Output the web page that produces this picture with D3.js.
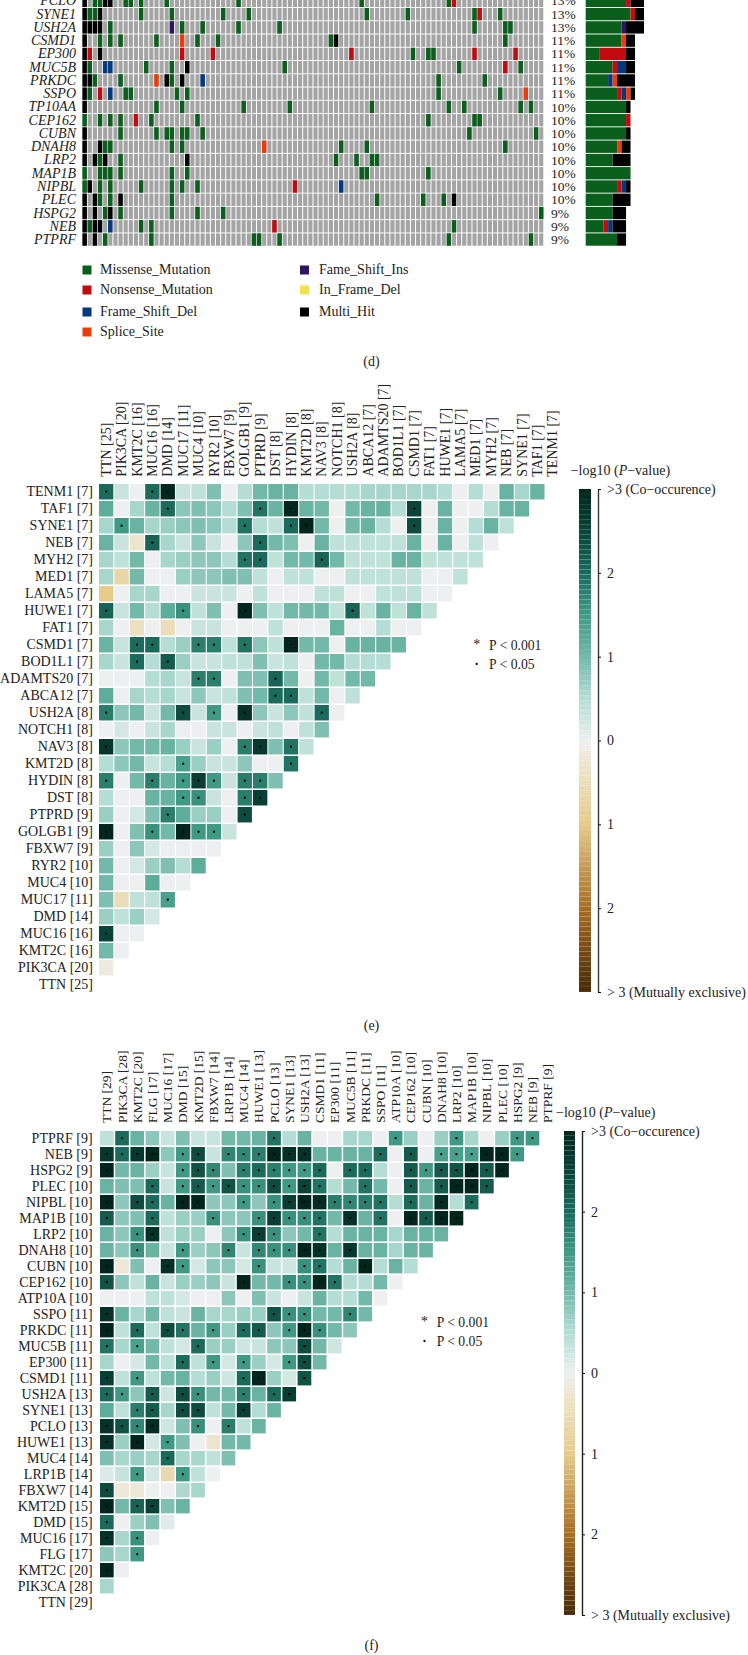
<!DOCTYPE html>
<html>
<head>
<meta charset="utf-8">
<script src="https://cdnjs.cloudflare.com/ajax/libs/d3/7.8.5/d3.min.js"></script>
<style>
html,body{margin:0;padding:0;background:#fff;overflow:hidden}
svg{display:block}
text{font-family:"Liberation Serif",serif;fill:#222}
</style>
</head>
<body>
<svg id="fig" width="748" height="1655"></svg>
<script>
// ---------- panel (d) ----------
const oncoGenes = ["PCLO","SYNE1","USH2A","CSMD1","EP300","MUC5B","PRKDC","SSPO","TP10AA","CEP162","CUBN","DNAH8","LRP2","MAP1B","NIPBL","PLEC","HSPG2","NEB","PTPRF"];
const oncoPercent = [13,13,13,11,11,11,11,11,10,10,10,10,10,10,10,10,9,9,9];
const sampleCount = 90;
const missenseCols = [[2,3,8,9,11,16,30,54,71],[1,2,11,17,27,32,55,63,76,81],[5,19,23,30,38,76,82,83],[3,5,7,14,22,26,48,82],[64,67,68],[1,12,17,39,73,85],[2,7,17,69,78],[1,8,9,18,20,69,81],[14,19,31,40,56,71,74,85,87],[0,3,5,7,13,22,67,76,77],[7,14,16,17,19,20,23,75,88],[4,5,17,19,50,55,82],[3,7,49,53,56,57],[0,3,4,5,7,17,20,54,55,67],[0,3,5,11,17,19,22],[3,5,17,57,66,70],[4,7,17,22,27,89],[1,11,13,72],[4,13,33,34,38,71,87]];
const nonsenseCols = [[72],[77],[],[],[1,19,25,52,76,84],[82],[],[3],[],[10],[],[],[],[],[41],[],[],[37],[]];
const frameDelCols = [[],[],[],[],[],[4,5],[23],[5],[],[],[],[],[],[],[50],[],[],[5],[]];
const spliceCols = [[],[],[],[19],[],[],[14],[86],[],[],[],[35],[],[],[],[],[],[],[]];
const frameInsCols = [[],[],[17],[],[],[],[],[],[],[],[],[],[],[],[],[],[],[],[]];
const multiHitCols = [[0,4,5],[0,3],[0,1,2,3],[0,49],[0,3],[0,20],[0,1,16,19],[0],[0],[],[0],[0,3],[0,2,4,20],[],[1],[0,2,7,72],[0,2,5],[0,2,3],[0,2]];
const barMissense = [9,10,8,8,3,6,5,7,9,9,9,7,6,10,7,6,6,4,7];
const barNonsense = [1,1,0,0,6,1,0,1,0,1,0,0,0,0,1,0,0,1,0];
const barFrameDel = [0,0,0,0,0,2,1,1,0,0,0,0,0,0,1,0,0,1,0];
const barSplice = [0,0,0,1,0,0,1,1,0,0,0,1,0,0,0,0,0,0,0];
const barFrameIns = [0,0,1,0,0,0,0,0,0,0,0,0,0,0,0,0,0,0,0];
const barMultiHit = [3,2,4,2,2,2,4,1,1,0,1,2,4,0,1,4,3,3,2];
const mutationTypes = ["Missense","Nonsense","FrameDel","Splice","FrameIns","InFrameDel","Multi"];
const mutationColors = ["#0a5f1c","#c30a0e","#03397f","#ea3d0b","#2d1560","#efe44e","#000000"];
const legendLeft = ["Missense_Mutation","Nonsense_Mutation","Frame_Shift_Del","Splice_Site"];
const legendRight = ["Fame_Shift_Ins","In_Frame_Del","Multi_Hit"];

// ---------- panel (e) ----------
const eCols = ["TTN [25]","PIK3CA [20]","KMT2C [16]","MUC16 [16]","DMD [14]","MUC17 [11]","MUC4 [10]","RYR2 [10]","FBXW7 [9]","GOLGB1 [9]","PTPRD [9]","DST [8]","HYDIN [8]","KMT2D [8]","NAV3 [8]","NOTCH1 [8]","USH2A [8]","ABCA12 [7]","ADAMTS20 [7]","BOD1L1 [7]","CSMD1 [7]","FAT1 [7]","HUWE1 [7]","LAMA5 [7]","MED1 [7]","MYH2 [7]","NEB [7]","SYNE1 [7]","TAF1 [7]","TENM1 [7]"];
const eValues = [
[2,.3,0,2,3,.3,.4,.9,0,.5,1,1.1,1.1,.5,.5,.5,.5,.6,.6,.6,.6,.6,.5,0,.5,0,1.1,.6,1.1],
[1.2,0,.6,1.1,2,.8,.9,.8,.5,.9,1.9,1.1,3,1.1,1,0,1,1.1,1.1,.5,2.5,0,1.1,0,0,.5,1.1,1.1],
[.6,1.5,1.1,.6,.7,.8,.9,.8,.5,1.9,.5,.4,2,3,1,0,1,1.1,.5,0,2.4,0,1.1,0,.5,1.1,.4],
[1.1,.3,-.3,2.1,.6,.3,.8,.3,0,.8,2,1,.9,0,1.1,.4,.4,.4,.4,.4,1.1,0,1.1,0,.4,0],
[.6,.4,1,0,.6,.7,.8,.8,.5,1.9,2,.4,1,1,2.1,1,.4,.4,.4,1.1,1.1,.4,.4,.4,.4],
[.6,-.7,1,0,0,.7,.8,.8,.9,.9,.4,0,.4,.4,0,0,.4,.4,.4,.4,.4,0,0,.4],
[-1,0,.6,.6,0,0,.3,.3,.3,0,.4,0,0,0,.4,.4,0,0,.4,.4,.4,0,0],
[2.1,.3,1,.5,1.2,1.6,.4,.9,0,3,.9,.4,1,1,1,.4,2.1,.4,1.1,.4,1.1,.4],
[.6,0,-.4,0,-.5,0,.3,.3,0,0,0,.4,0,0,0,1.1,0,0,.5,0,0],
[1.1,.3,2,2,.5,.7,1.8,1.8,.4,1.9,.8,.4,3,1,1,0,1.1,1.1,1.1,1.1],
[.6,.3,2,.5,2.2,.7,.3,.3,.4,.4,.9,.3,.4,0,1,1,.5,.5,.5],
[0,0,0,.5,.6,.3,1.8,1.8,0,.9,.9,2.1,1,0,1,.4,1,1],
[1.2,0,.6,.5,.6,.3,.8,.3,.4,.9,1,2,2,.4,1,0,.4],
[1.8,.8,1,.3,1,2.4,.3,1.5,0,2.8,.8,.3,.8,.4,2,0],
[0,.2,0,.3,.6,0,0,.3,.3,0,.3,.4,0,.4,.9],
[2.7,.8,1,1,1.1,.7,.3,.7,0,1.8,2.7,.9,1.9,.4],
[.5,.8,1,.3,.5,1.4,.7,.3,.3,.8,0,0,1.9],
[1.8,0,1,1.8,1.1,1.5,2.6,1.5,.3,1.8,1.8,.9],
[.5,0,0,1.1,1.1,1.5,1.6,.3,0,1.8,2.6],
[.7,0,.2,.9,1.8,1.2,.7,.7,0,2.4],
[3,0,.9,1.6,1,3,1.5,1.5,.3],
[.7,0,.8,.2,0,0,0,0],
[1,0,.2,.7,.9,.5,1.2],
[1,0,0,1.2,0,0],
[.9,-.5,.4,.4,1.4],
[.7,.4,.7,.2],
[2.5,0,0],
[1,0],
[-.15],
[]];

// ---------- panel (f) ----------
const fCols = ["TTN [29]","PIK3CA [28]","KMT2C [20]","FLG [17]","MUC16 [17]","DMD [15]","KMT2D [15]","FBXW7 [14]","LRP1B [14]","MUC4 [14]","HUWE1 [13]","PCLO [13]","SYNE1 [13]","USH2A [13]","CSMD1 [11]","EP300 [11]","MUC5B [11]","PRKDC [11]","SSPO [11]","ATP10A [10]","CEP162 [10]","CUBN [10]","DNAH8 [10]","LRP2 [10]","MAP1B [10]","NIPBL [10]","PLEC [10]","HSPG2 [9]","NEB [9]","PTPRF [9]"];
const fValues = [
[.4,2,1.1,.8,.3,.9,.3,.3,1,1,1.1,1.9,.5,1.1,0,0,.6,.6,0,1.5,.7,0,.7,1.5,.6,0,.7,1.5,1.5],
[2.7,2,2.7,3,.8,1.5,2.4,.3,1.7,1.7,1.8,3,2.8,2.8,1.1,1.1,1.1,1.1,2,0,2.2,0,1.4,1.4,1.4,3,3,1.5],
[3,1,1.1,.7,.3,1.5,2.3,1.7,.9,1.8,2,1.8,1.5,1.5,2,0,2,2,.5,0,2.2,1.5,2.2,2.3,3,2.2,3],
[1.1,.9,.9,2,.3,1.5,2.2,1.5,2.3,1.6,1.6,2.4,1.5,2.5,1.9,.5,1,1.9,1,0,2.2,1.1,2.2,3,3,2.2],
[3,.8,2.4,2,1.1,3,3,.8,.8,1.5,.8,1.6,2.6,3,2.9,1.8,1.7,1.8,1.9,.5,2,1.1,2.9,.5,2],
[2.2,.8,.9,2,.4,.7,.7,1.6,.8,.8,1.6,2.6,1.6,1.6,1.9,1,2.8,1.1,1.9,0,3,2.2,3,3],
[1.1,.8,1.6,2.8,.4,.7,.7,0,.8,1.6,2.6,1.6,.8,1,1.9,.5,1.1,1.1,1.1,.6,1.1,1.1,1.1],
[1.1,.8,1.6,1.1,.3,1.5,.7,.8,1.7,.3,1.7,1.6,1.6,3,2.8,1.1,2.7,1.1,1.1,.6,1.1,1.1],
[3,-.2,.9,0,2.8,1.5,.2,.8,.8,.2,1.6,.3,.25,1.6,1.9,.5,1.1,3,.5,1.1,.5],
[2.3,.8,.4,1.1,.3,.7,.7,.8,.3,3,1,1,1.6,1.6,3,1.9,.5,.5,1,0],
[0,0,0,.4,.4,.2,0,0,.8,0,.9,.3,0,.3,1.1,.5,.5,1,0],
[2.8,1.1,.6,1,.4,.3,1.1,.6,.6,.7,.7,2.3,1.6,1.6,1,1,1.7,1],
[3,.4,2,.4,2.4,1.9,1.1,1.5,.7,2,2.2,.8,1.5,3,1.6,1,.8],
[1.9,.6,1.4,1,.4,.2,2,.7,.7,.25,.3,.8,.8,2.4,1,.25],
[.6,0,.2,1,.4,2,.4,1.5,.2,1.5,.7,.2,1.5,2.4,1],
[2.6,.4,1.5,.4,1,1.1,.5,.7,.25,2,3,.7,.2,2.3],
[2,1.5,.8,2.2,.25,2.4,1.6,1,1,1.8,1.1,2,2.6],
[1.2,.4,1.8,2.2,.6,2.4,2.4,.4,1,2.6,.5,1.1],
[2.8,2.3,1.7,2.9,.25,.9,1.6,0,1.8,.4,1.1],
[2.8,.7,3,.2,1.5,.9,0,-.3,1,1],
[.9,.6,.7,.6,2,.6,.6,.4,.9],
[.15,.35,1.5,.2,-.6,1.5,.4,0],
[2.4,-.2,-.2,0,0,.55,.6],
[3,1,2.1,2.5,.9,1.1],
[2,0,.7,.9,.1],
[2.8,.6,1.6,0],
[.8,.6,1.5],
[3,0],
[.6],
[]];

const colorStops = [-3,-2,-1,-.3,0,.2,.5,1,1.5,2,2.5,3];
const colorRamp = ["#472a08","#a86d23","#e6cb8b","#ede4cc","#eeeff1","#d3e8e3","#b4ddd5","#73b9a9","#3f9a85","#1a6b5c","#0a4438","#01261d"];
const barTicks = [3,2,1,0,-1,-2,-3];
const barTickLabels = [">3 (Co\u2212occurence)","2","1","0","1","2","> 3 (Mutually exclusive)"];
const dotThreshold = 1.3;

// ---------- drawing ----------
const svg = d3.select("#fig");
const color = d3.scaleLinear().domain(colorStops).range(colorRamp).clamp(true);

function band(domain, start, pitch, pad){
  const s = d3.scaleBand().domain(domain).paddingInner(pad).paddingOuter(pad/2);
  s.range([start - pitch*pad/2, start - pitch*pad/2 + pitch*domain.length]);
  return s;
}

// --- oncoplot
(function(){
  const g = svg.append("g");
  const x = band(d3.range(sampleCount), 82.6, 5.13, .2);
  const y = band(oncoGenes, -5.3, 13.26, .07);
  const sets = [missenseCols,nonsenseCols,frameDelCols,spliceCols,frameInsCols,null,multiHitCols];
  oncoGenes.forEach(gene=>{
    g.selectAll(null).data(d3.range(sampleCount)).join("rect")
      .attr("x",d=>x(d)).attr("y",y(gene)).attr("width",x.bandwidth()).attr("height",y.bandwidth())
      .attr("fill","#a4a4a4");
  });
  sets.forEach((set,t)=>{
    if(!set) return;
    set.forEach((cols,r)=>{
      g.selectAll(null).data(cols).join("rect")
        .attr("x",d=>x(d)-.2).attr("y",y(oncoGenes[r])).attr("width",x.bandwidth()+.4).attr("height",y.bandwidth())
        .attr("fill",mutationColors[t]);
    });
  });
  const left = d3.axisLeft(y).tickSize(0).tickPadding(0);
  g.append("g").attr("transform","translate(76,0)").call(left)
    .call(a=>a.select(".domain").remove())
    .selectAll("text").attr("font-size",14).attr("font-style","italic").attr("font-family","Liberation Serif").attr("fill","#222");
  g.selectAll(null).data(oncoGenes).join("text")
    .attr("x",551).attr("y",d=>y(d)+y.bandwidth()/2).attr("dy",".34em").attr("font-size",13.5)
    .text((d,i)=>oncoPercent[i]+"%");
  // bars
  const rows = oncoGenes.map((gene,i)=>({gene,Missense:barMissense[i],Nonsense:barNonsense[i],FrameDel:barFrameDel[i],Splice:barSplice[i],FrameIns:barFrameIns[i],Multi:barMultiHit[i]}));
  const keys = ["Missense","Nonsense","FrameDel","Splice","FrameIns","Multi"];
  const bx = d3.scaleLinear().domain([0,13]).range([585.7,644]);
  g.selectAll(null).data(d3.stack().keys(keys)(rows)).join("g")
    .attr("fill",s=>mutationColors[mutationTypes.indexOf(s.key)])
    .selectAll("rect").data(s=>s).join("rect")
    .attr("x",d=>bx(d[0])).attr("width",d=>bx(d[1])-bx(d[0]))
    .attr("y",d=>y(d.data.gene)).attr("height",y.bandwidth());
  // legend
  const legY = [270,290,312,332];
  const leftIdx=[0,1,2,3], rightIdx=[4,5,6];
  legendLeft.forEach((t,i)=>{
    g.append("rect").attr("x",82.5).attr("y",legY[i]-4.5).attr("width",9).attr("height",9).attr("fill",mutationColors[leftIdx[i]]);
    g.append("text").attr("x",100).attr("y",legY[i]).attr("dy",".3em").attr("font-size",14).text(t);
  });
  legendRight.forEach((t,i)=>{
    g.append("rect").attr("x",300).attr("y",legY[i]-4.5).attr("width",9).attr("height",9).attr("fill",mutationColors[rightIdx[i]]);
    g.append("text").attr("x",319).attr("y",legY[i]).attr("dy",".3em").attr("font-size",14).text(t);
  });
})();

// --- heat maps
function heat(cfg){
  const g = svg.append("g");
  const rowNames = cfg.cols.slice().reverse();
  const x = band(cfg.cols, cfg.x0, cfg.px, cfg.padX);
  const y = band(rowNames, cfg.y0, cfg.py, cfg.padY);
  cfg.values.forEach((row,r)=>{
    const gr = g.append("g");
    gr.selectAll("rect").data(row).join("rect")
      .attr("x",(d,i)=>x(cfg.cols[i])).attr("y",y(rowNames[r]))
      .attr("width",x.bandwidth()).attr("height",y.bandwidth())
      .attr("fill",d=>color(d));
    gr.selectAll("circle").data(row.map((v,i)=>[v,i]).filter(d=>d[0]>=dotThreshold)).join("circle")
      .attr("cx",d=>x(cfg.cols[d[1]])+x.bandwidth()/2).attr("cy",y(rowNames[r])+y.bandwidth()/2)
      .attr("r",1.15).attr("fill","#000");
  });
  g.append("g").attr("transform",`translate(${cfg.rowLabelX},0)`)
    .call(d3.axisLeft(y).tickSize(0).tickPadding(0))
    .call(a=>a.select(".domain").remove())
    .selectAll("text").attr("font-size",cfg.rowFont).attr("font-family","Liberation Serif").attr("fill","#222");
  const top = g.append("g").attr("transform",`translate(0,${cfg.colLabelY})`)
    .call(d3.axisTop(x).tickSize(0).tickPadding(0));
  top.select(".domain").remove();
  top.selectAll("text").attr("font-size",cfg.colFont).attr("font-family","Liberation Serif").attr("fill","#222")
    .attr("text-anchor","start").attr("x",0).attr("y",0).attr("dy",".33em").attr("transform","rotate(-90)");

  // colour bar
  const vy = d3.scaleLinear().domain([3,-3]).range([cfg.barTop,cfg.barBottom]);
  const step = .06;
  const bands = d3.range(3,-3,-step);
  g.append("g").selectAll("rect").data(bands).join("rect")
    .attr("x",cfg.barX).attr("width",cfg.barW)
    .attr("y",d=>vy(d)).attr("height",d=>vy(d-step)-vy(d)-.08)
    .attr("fill",d=>color(d-step/2));
  const axis = d3.axisRight(vy).tickValues(barTicks).tickSize(3).tickSizeOuter(0).tickPadding(cfg.tickPad)
    .tickFormat((d,i)=>barTickLabels[i]);
  const ag = g.append("g").attr("transform",`translate(${cfg.axisX},0)`).call(axis);
  ag.select(".domain").attr("stroke",cfg.axisColor).attr("stroke-width",1.4);
  ag.selectAll("line").attr("stroke","#111");
  ag.selectAll("text").attr("font-size",14).attr("font-family","Liberation Serif").attr("fill","#222");

  const t = g.append("text").attr("x",cfg.titleX).attr("y",cfg.titleY).attr("dy",".3em").attr("font-size",14);
  t.append("tspan").text("\u2212log10 (");
  t.append("tspan").attr("font-style","italic").text("P");
  t.append("tspan").text("\u2212value)");

  // P legend
  g.append("text").attr("x",cfg.pStar).attr("y",cfg.pY1+3.5).attr("text-anchor","middle").attr("font-size",14).text("*");
  g.append("circle").attr("cx",cfg.pStar).attr("cy",cfg.pY2).attr("r",1.15).attr("fill","#111");
  g.append("text").attr("x",cfg.pText).attr("y",cfg.pY1).attr("dy",".33em").attr("font-size",13.7).text("P < 0.001");
  g.append("text").attr("x",cfg.pText).attr("y",cfg.pY2).attr("dy",".33em").attr("font-size",13.7).text("P < 0.05");
}

heat({cols:eCols,values:eValues,x0:99,px:15.4,padX:.07,y0:484,py:17,padY:.09,rowLabelX:93,rowFont:14,colLabelY:476.7,colFont:14,
  barX:579,barW:12,barTop:489,barBottom:992,axisX:598,axisColor:"#3a3a3a",tickPad:6,titleX:570.7,titleY:471,
  pStar:476.7,pText:489,pY1:645,pY2:664});
heat({cols:fCols,values:fValues,x0:100,px:15.2,padX:.1,y0:1131,py:16,padY:.1,rowLabelX:92.7,rowFont:14,colLabelY:1123,colFont:13.5,
  barX:564,barW:11,barTop:1131,barBottom:1615,axisX:582,axisColor:"#222",tickPad:6,titleX:556,titleY:1113,
  pStar:424.5,pText:436.7,pY1:1322,pY2:1341});

// panel letters
const panelLetters = ["(d)","(e)","(f)"];
const panelY = [361,1025,1645];
svg.append("g").selectAll("text").data(panelLetters).join("text")
  .attr("x",371.5).attr("y",(d,i)=>panelY[i]).attr("dy",".33em").attr("text-anchor","middle").attr("font-size",14).text(d=>d);
</script>
</body>
</html>
